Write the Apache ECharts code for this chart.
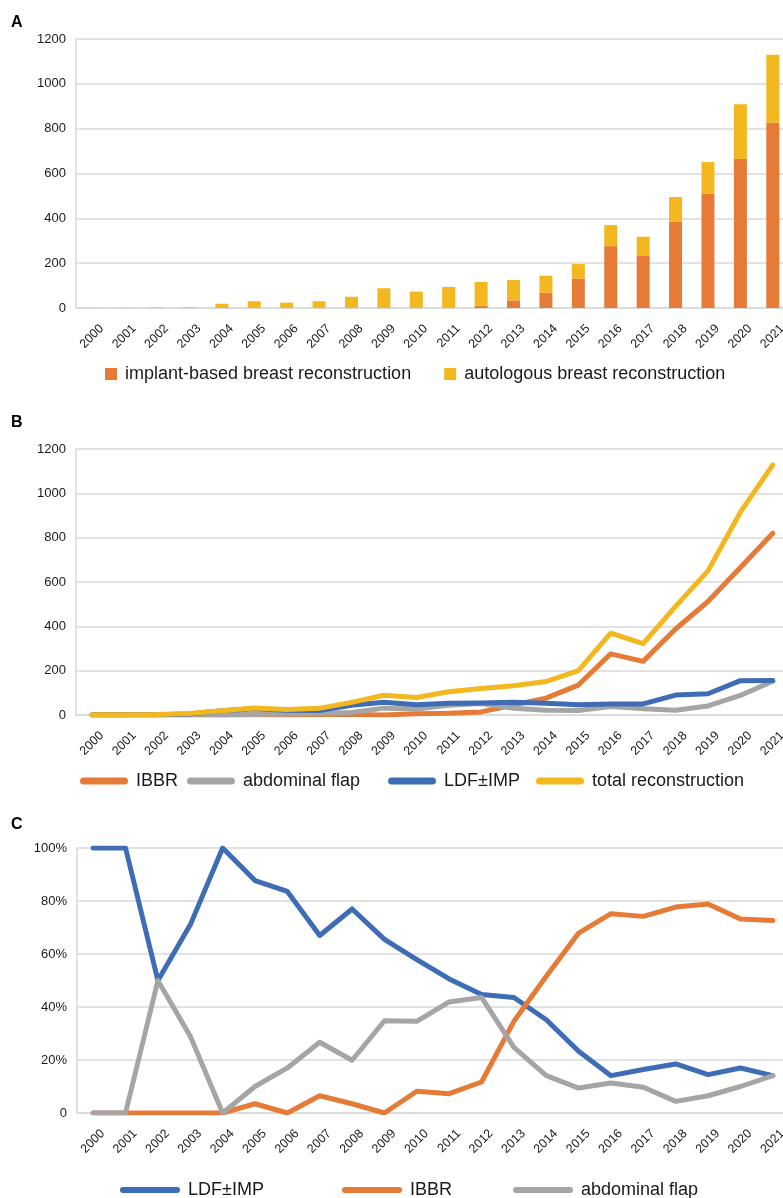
<!DOCTYPE html>
<html>
<head>
<meta charset="utf-8">
<script src="https://cdn.jsdelivr.net/npm/echarts@6/dist/echarts.min.js"></script>
<style>
html,body{margin:0;padding:0;background:#fff;}
#chart{width:783px;height:1198px;}
</style>
</head>
<body>
<div id="chart"></div>
<script>
// ---------- data ----------
var years = ['2000','2001','2002','2003','2004','2005','2006','2007','2008','2009','2010',
             '2011','2012','2013','2014','2015','2016','2017','2018','2019','2020','2021'];

// Panel A (stacked bars, counts)
var aImplant    = [0,0,0,0,0,0,0,0,0,0,0,0,10,34,68,131,276,235,386,511,665,826];
var aAutologous = [1,1,2,3,19,30,24,30,50,88,73,94,106,91,76,65,94,83,109,140,244,304];

// Panel B (lines, counts)
var bIBBR  = [0,0,0,0,0,1,0,2,2,0,6,8,14,45,76,135,276,242,388,512,665,820];
var bAbd   = [0,0,1,2,0,3,4,8,11,31,27,44,52,30,21,20,38,28,21,41,88,152];
var bLDF   = [1,1,1,5,19,28,21,20,44,58,46,53,54,57,53,46,50,50,90,96,155,156];
var bTotal = [1,1,2,7,19,32,25,30,57,89,79,105,120,132,151,200,369,322,490,650,915,1128];

// Panel C (lines, percentages)
var cLDF  = [100,100,50,71,100,87.7,83.6,67,77,65.5,57.9,50.6,44.7,43.6,35.2,23.3,14.1,16.4,18.5,14.5,17,14.1];
var cIBBR = [0,0,0,0,0,3.5,0,6.5,3.5,0,8.2,7.3,11.7,34.6,51.6,67.9,75.2,74.2,77.7,78.9,73.2,72.6];
var cAbd  = [0,0,50,29,0,10,17,26.7,19.9,34.8,34.6,41.9,43.6,24.8,14.1,9.4,11.3,9.7,4.4,6.5,10,14.1];

// ---------- styles ----------
var FONT = 'Liberation Sans, Arial, sans-serif';
var C_OR = '#E57B37', C_YE = '#F3B820', C_BL = '#3E6DB5', C_GR = '#A5A5A5';
var GRID_COL = '#D9D9D9';
var TXT = '#1a1a1a';
// capsule-shaped legend icons
var CAPSULE = 'path://M3,0L57,0A3,3,0,0,1,57,6L3,6A3,3,0,0,1,3,0Z';
var CAPSULE_B = 'path://M3.5,0L44.5,0A3.5,3.5,0,0,1,44.5,7L3.5,7A3.5,3.5,0,0,1,3.5,0Z';

function xAx(gi){
  return {
    type:'category', gridIndex:gi, data:years, boundaryGap:true,
    axisLine:{show:true, lineStyle:{color:GRID_COL, width:1.5}},
    axisTick:{show:false},
    axisLabel:{interval:0, rotate:45, fontSize:12.5, fontFamily:FONT, color:TXT, margin:9,
               align:'right', verticalAlign:'top', lineHeight:27}
  };
}
function yAx(gi, max, interval, fmt){
  return {
    type:'value', gridIndex:gi, min:0, max:max, interval:interval,
    axisLine:{show:true, lineStyle:{color:GRID_COL, width:1.5}},
    axisTick:{show:false},
    splitLine:{show:true, lineStyle:{color:GRID_COL, width:1.5}},
    axisLabel:{fontSize:13, fontFamily:FONT, color:TXT, margin:10, formatter:fmt}
  };
}
function lineS(name, data, color, xi, w){
  return {
    name:name, type:'line', xAxisIndex:xi, yAxisIndex:xi, data:data,
    symbol:'none', showSymbol:false, smooth:false,
    lineStyle:{color:color, width:w, cap:'round', join:'round'},
    itemStyle:{color:color}, emphasis:{disabled:true}, animation:false
  };
}
function leg(name, left, top, w, h, icon){
  return {
    data:[name], left:left, top:top, orient:'horizontal', selectedMode:false, padding:0,
    icon:icon, itemWidth:w, itemHeight:h,
    textStyle:{fontSize:18, fontFamily:FONT, color:TXT, padding:[0,0,0,3]}
  };
}

var chart = echarts.init(document.getElementById('chart'), null, {renderer:'canvas'});
chart.setOption({
  backgroundColor:'#fff',
  animation:false,
  graphic:[
    {type:'text', left:11, top:15, style:{text:'A', font:'bold 16px '+FONT, fill:'#000'}},
    {type:'text', left:11, top:415, style:{text:'B', font:'bold 16px '+FONT, fill:'#000'}},
    {type:'text', left:11, top:817, style:{text:'C', font:'bold 16px '+FONT, fill:'#000'}}
  ],
  grid:[
    {left:76, right:-6, top:39, height:269, containLabel:false, outerBoundsMode:'none'},
    {left:76, right:-6, top:449, height:266, containLabel:false, outerBoundsMode:'none'},
    {left:77, right:-6, top:848, height:265, containLabel:false, outerBoundsMode:'none'}
  ],
  xAxis:[xAx(0), xAx(1), xAx(2)],
  yAxis:[
    yAx(0, 1200, 200, function(v){return String(v);}),
    yAx(1, 1200, 200, function(v){return String(v);}),
    yAx(2, 100, 20, function(v){return v===0 ? '0' : v+'%';})
  ],
  legend:[
    {
      data:['implant-based breast reconstruction','autologous breast reconstruction'],
      left:105, top:365, selectedMode:false, padding:0, icon:'rect', itemWidth:12, itemHeight:12, itemGap:33,
      textStyle:{fontSize:18, fontFamily:FONT, color:TXT, padding:[0,0,0,3]}
    },
    leg('IBBR', 80, 772, 48, 7, CAPSULE_B),
    leg('abdominal flap', 187, 772, 48, 7, CAPSULE_B),
    leg('LDF±IMP', 388, 772, 48, 7, CAPSULE_B),
    leg('total reconstruction', 536, 772, 48, 7, CAPSULE_B),
    leg('LDF±IMP', 120, 1181, 60, 6, CAPSULE),
    leg('IBBR', 342, 1181, 60, 6, CAPSULE),
    leg('abdominal flap', 513, 1181, 60, 6, CAPSULE)
  ],
  series:[
    {name:'implant-based breast reconstruction', type:'bar', stack:'a', xAxisIndex:0, yAxisIndex:0,
     data:aImplant, barWidth:13, itemStyle:{color:C_OR}, animation:false},
    {name:'autologous breast reconstruction', type:'bar', stack:'a', xAxisIndex:0, yAxisIndex:0,
     data:aAutologous, barWidth:13, itemStyle:{color:C_YE}, animation:false},

    lineS('IBBR', bIBBR, C_OR, 1, 5),
    lineS('abdominal flap', bAbd, C_GR, 1, 5),
    lineS('LDF±IMP', bLDF, C_BL, 1, 5),
    lineS('total reconstruction', bTotal, C_YE, 1, 5),

    lineS('LDF±IMP', cLDF, C_BL, 2, 5),
    lineS('IBBR', cIBBR, C_OR, 2, 5),
    lineS('abdominal flap', cAbd, C_GR, 2, 5)
  ]
});
</script>
</body>
</html>
